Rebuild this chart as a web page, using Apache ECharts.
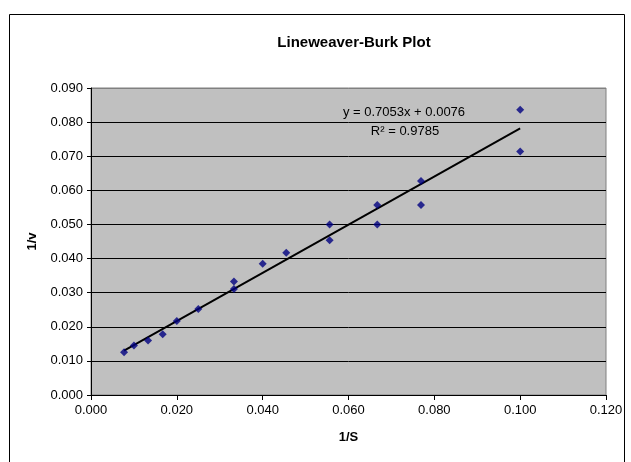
<!DOCTYPE html>
<html>
<head>
<meta charset="utf-8">
<script src="https://cdn.jsdelivr.net/npm/echarts@6/dist/echarts.min.js"></script>
<style>
  html, body { margin: 0; padding: 0; background: #fff; }
  #chart { width: 631px; height: 462px; }
</style>
</head>
<body>
<div id="chart"></div>
<script>
// Reciprocal substrate concentration (1/S) and reciprocal rate (1/v)
const invS = [0.0077, 0.0100, 0.0133, 0.0167, 0.0200, 0.0250, 0.0333, 0.0333, 0.0400,
              0.0455, 0.0556, 0.0556, 0.0667, 0.0667, 0.0769, 0.0769, 0.1000, 0.1000];
const invV = [0.0125, 0.0145, 0.0160, 0.0178, 0.0217, 0.0252, 0.0333, 0.0311, 0.0385,
              0.0417, 0.0500, 0.0454, 0.0557, 0.0500, 0.0627, 0.0557, 0.0836, 0.0714];

// Linear trendline parameters
const slope = 0.7053;
const intercept = 0.0076;
const rSquared = 0.9785;

// Axis ticks
const xTicks = { min: 0, max: 0.12, step: 0.02 };
const yTicks = { min: 0, max: 0.09, step: 0.01 };

const points = invS.map((x, i) => [x, invV[i]]);
const xLo = Math.min(...invS), xHi = Math.max(...invS);
const trend = [[xLo, slope * xLo + intercept], [xHi, slope * xHi + intercept]];

const font = 'Liberation Sans, Arial, sans-serif';
const nY = Math.round((yTicks.max - yTicks.min) / yTicks.step) + 1;
const gridColors = Array.from({ length: nY }, (_, i) => (i === nY - 1 ? '#808080' : '#000000'));

const chart = echarts.init(document.getElementById('chart'), null, { renderer: 'canvas' });
chart.setOption({
  animation: false,
  backgroundColor: '#ffffff',
  title: {
    text: 'Lineweaver-Burk Plot',
    left: 349, top: 30, textAlign: 'center',
    textStyle: { fontFamily: font, fontSize: 15, fontWeight: 'bold', color: '#000' }
  },
  grid: {
    left: 91, right: 25, top: 88, bottom: 67,
    show: true, backgroundColor: '#c0c0c0', borderColor: '#808080', borderWidth: 1
  },
  xAxis: {
    type: 'value', min: xTicks.min, max: xTicks.max, interval: xTicks.step,
    name: '1/S', nameLocation: 'middle', nameGap: 36,
    nameTextStyle: { fontFamily: font, fontSize: 13, fontWeight: 'bold', color: '#000' },
    axisLine: { show: true, onZero: false, lineStyle: { color: '#000', width: 1 } },
    axisTick: { show: true, inside: false, length: 5, lineStyle: { color: '#000' } },
    axisLabel: { fontFamily: font, fontSize: 13, color: '#000', margin: 9,
                 formatter: v => v.toFixed(3) },
    splitLine: { show: false }
  },
  yAxis: {
    type: 'value', min: yTicks.min, max: yTicks.max, interval: yTicks.step,
    name: '1/v', nameLocation: 'middle', nameGap: 52, nameRotate: 90,
    nameTextStyle: { fontFamily: font, fontSize: 13, fontWeight: 'bold', color: '#000' },
    axisLine: { show: true, lineStyle: { color: '#000', width: 1 } },
    axisTick: { show: true, inside: false, length: 4, lineStyle: { color: '#000' } },
    axisLabel: { fontFamily: font, fontSize: 13, color: '#000', margin: 8,
                 formatter: v => v.toFixed(3) },
    splitLine: { show: true, lineStyle: { color: gridColors, width: 1 } }
  },
  series: [
    {
      name: 'trend', type: 'line', data: trend, symbol: 'none', silent: true,
      lineStyle: { color: '#000', width: 2 }, z: 2
    },
    {
      name: '1/v', type: 'scatter', data: points, symbol: 'diamond', symbolSize: 8,
      itemStyle: { color: '#000080' }, z: 3
    }
  ],
  graphic: [
    { type: 'rect', left: 7, top: 12, shape: { width: 615, height: 470 },
      style: { fill: 'none', stroke: '#000', lineWidth: 1 }, silent: true },
    { type: 'text', x: 404, y: 112,
      style: { text: 'y = ' + slope.toFixed(4) + 'x + ' + intercept.toFixed(4),
               fontFamily: font, fontSize: 13, fill: '#000', align: 'center', verticalAlign: 'middle' } },
    { type: 'text', x: 405, y: 131,
      style: { text: 'R\u00b2 = ' + rSquared.toFixed(4),
               fontFamily: font, fontSize: 13, fill: '#000', align: 'center', verticalAlign: 'middle' } }
  ]
});
</script>
</body>
</html>
